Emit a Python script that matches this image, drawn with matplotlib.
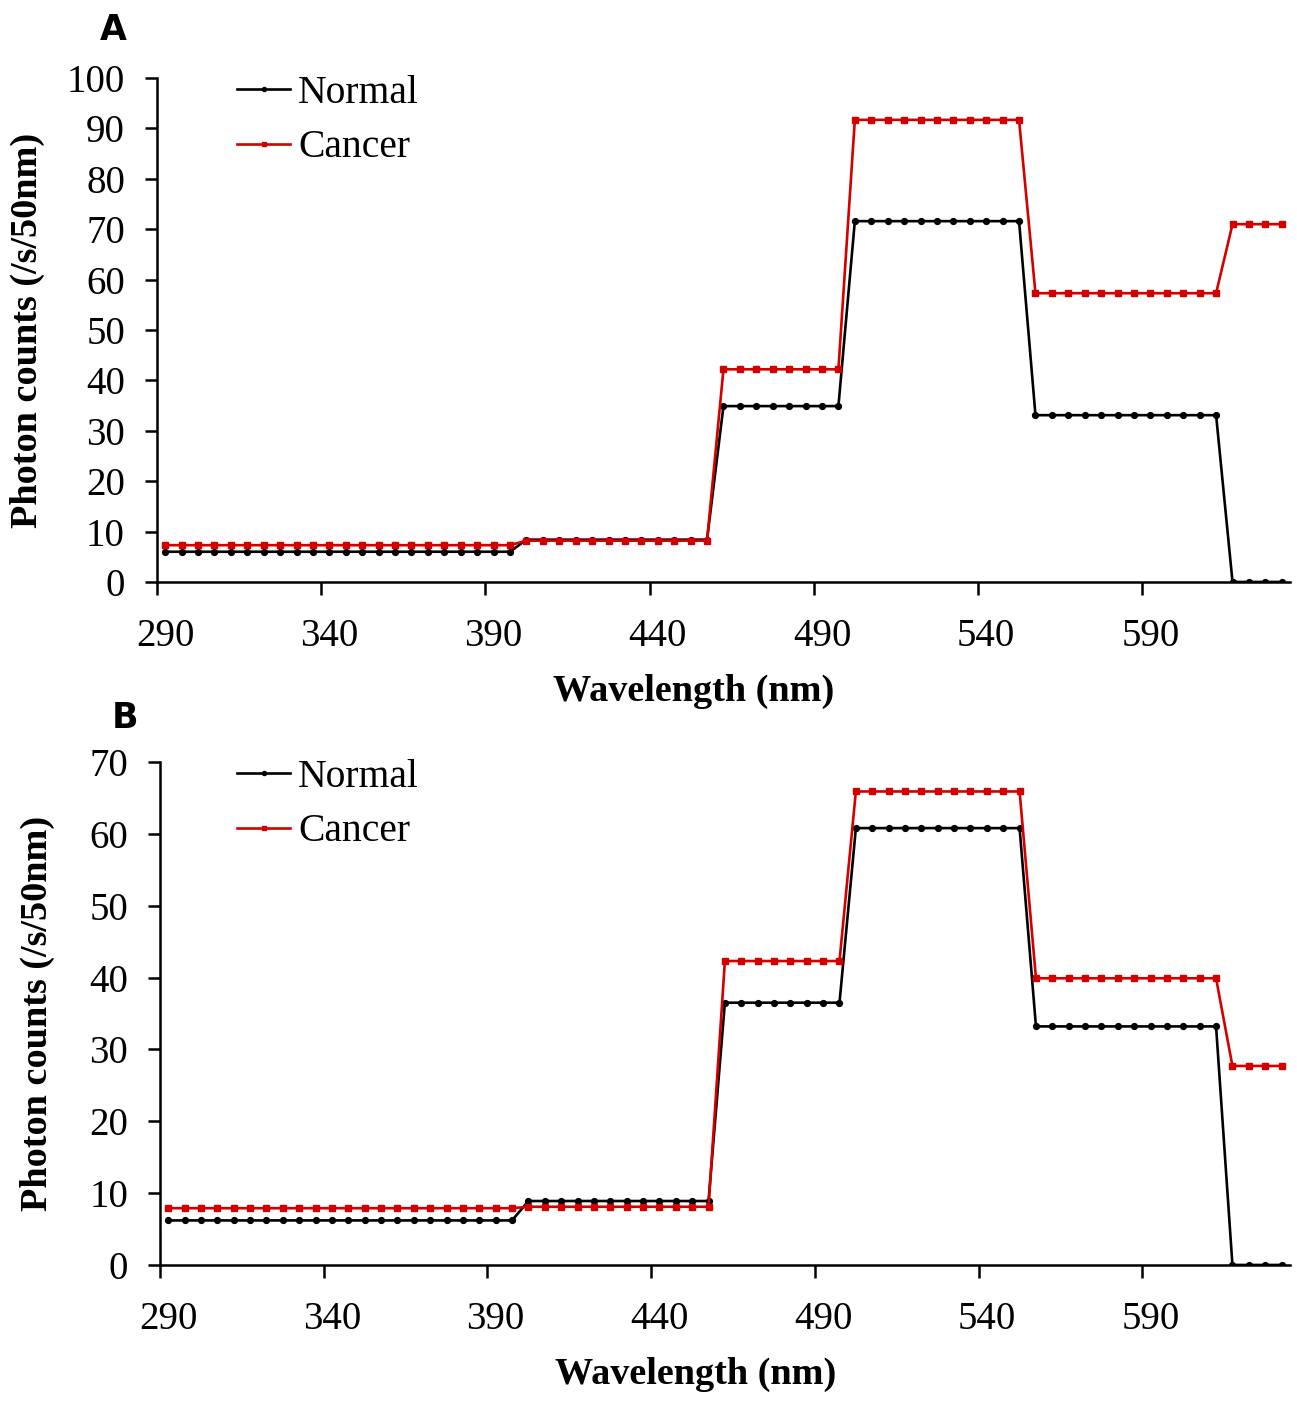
import numpy as np
import matplotlib
matplotlib.use('Agg')
import matplotlib.pyplot as plt
from matplotlib.ticker import FixedLocator

plt.rcParams['font.family'] = 'Liberation Serif'

# Wavelength categories, every 5 nm
wavelength = list(range(290, 631, 5))

# Panel A (step levels per band)
# bands: 290-395 (22), 400-455 (12), 460-495 (8), 500-550 (11), 555-610 (12), 615-630 (4)
normal_a = [6.0] * 22 + [8.4] * 12 + [34.9] * 8 + [71.6] * 11 + [33.1] * 12 + [0.0] * 4
cancer_a = [7.3] * 22 + [8.2] * 12 + [42.2] * 8 + [91.7] * 11 + [57.3] * 12 + [71.0] * 4

# Panel B
normal_b = [6.2] * 22 + [8.9] * 12 + [36.5] * 8 + [60.8] * 11 + [33.2] * 12 + [0.0] * 4
cancer_b = [7.9] * 22 + [8.1] * 12 + [42.3] * 8 + [65.9] * 11 + [39.9] * 12 + [27.7] * 4

xtick_labels = [290, 340, 390, 440, 490, 540, 590]

fig = plt.figure(figsize=(12.97, 14.01), dpi=100)
ax_a = fig.add_axes([0.121, 0.5846, 0.8736, 0.3597])
ax_b = fig.add_axes([0.1234, 0.0971, 0.871, 0.359])


def draw_panel(ax, normal, cancer, ymax, lab_x, leg_x):
    ax.plot(wavelength, normal, color='black', lw=1.9, marker='o', ms=4.2,
            label='Normal')
    ax.plot(wavelength, cancer, color='#d40000', lw=1.9, marker='s', ms=4.2,
            label='Cancer')
    ax.set_xlim(287.5, 632.5)
    ax.set_ylim(0, ymax)
    ax.spines['top'].set_visible(False)
    ax.spines['right'].set_visible(False)
    ax.spines['left'].set_linewidth(1.8)
    ax.spines['bottom'].set_linewidth(1.8)
    ax.set_yticks(np.arange(0, ymax + 1, 10))
    # category axis: labels centred on categories, marks between them
    ax.set_xticks(xtick_labels)
    ax.xaxis.set_minor_locator(FixedLocator([v - 2.5 for v in xtick_labels]))
    ax.tick_params(axis='x', which='major', length=0, pad=26, labelsize=28)
    ax.tick_params(axis='x', which='minor', length=9, width=1.8, direction='out')
    ax.tick_params(axis='y', length=9, width=1.8, direction='out', pad=14,
                   labelsize=28)
    ax.set_xlabel('Wavelength (nm)', fontsize=27.5, fontweight='bold')
    ax.set_ylabel('Photon counts (/s/50nm)', fontsize=27.5, fontweight='bold')
    ax.xaxis.set_label_coords(0.474, -0.183)
    ax.yaxis.set_label_coords(lab_x, 0.5)
    ax.legend(loc='upper left', bbox_to_anchor=(leg_x, 1.006), frameon=False,
              fontsize=28.5, handlelength=1.35, handletextpad=0.2,
              labelspacing=0.44, borderpad=0, borderaxespad=0, markerscale=0.7)


draw_panel(ax_a, normal_a, cancer_a, 100, -0.099, 0.0706)
draw_panel(ax_b, normal_b, cancer_b, 70, -0.093, 0.068)

fig.text(113 / 1297, 1 - 30 / 1401, 'A', fontsize=25, fontweight='bold',
         family='DejaVu Sans', ha='center', va='center')
fig.text(125 / 1297, 1 - 718 / 1401, 'B', fontsize=25, fontweight='bold',
         family='DejaVu Sans', ha='center', va='center')

fig.savefig('out.png', dpi=100)
